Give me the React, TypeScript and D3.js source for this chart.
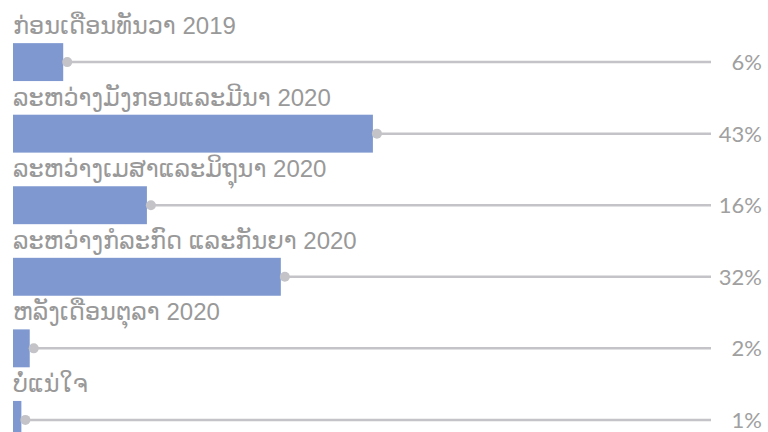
import React, { useEffect, useRef } from 'react';
import * as d3 from 'd3';

// survey answers: when did it happen (Lao labels)
const categories = [
  'ກ່ອນເດືອນທັນວາ 2019',
  'ລະຫວ່າງມັງກອນແລະມີນາ 2020',
  'ລະຫວ່າງເມສາແລະມິຖຸນາ 2020',
  'ລະຫວ່າງກໍລະກົດ ແລະກັນຍາ 2020',
  'ຫລັງເດືອນຕຸລາ 2020',
  'ບໍ່ແນ່ໃຈ',
];
const shares = [6, 43, 16, 32, 2, 1];
const shareLabels = ['6%', '43%', '16%', '32%', '2%', '1%'];

const App = () => {
  const svgRef = useRef<SVGSVGElement>(null);

  useEffect(() => {
    const width = 768;
    const height = 432;
    const svg = d3.select(svgRef.current);
    svg.selectAll('*').remove();

    const x = d3.scaleLinear().domain([0, 100]).range([13, 850]);
    const y = d3.scaleBand().domain(categories).range([9.5, 472.5]).padding(0.47);
    const lineEnd = 711;

    const rows = svg.selectAll('g.row')
      .data(categories)
      .enter()
      .append('g')
      .attr('class', 'row');

    // category label above each bar
    rows.append('text')
      .attr('x', 13)
      .attr('y', d => (y(d) as number) - 9)
      .attr('font-family', '"Liberation Sans", "DejaVu Sans", sans-serif')
      .attr('font-size', 24)
      .attr('fill', '#999999')
      .text(d => d);

    // bars
    rows.append('rect')
      .attr('x', x(0))
      .attr('y', d => y(d) as number)
      .attr('width', (d, i) => x(shares[i]) - x(0))
      .attr('height', y.bandwidth())
      .attr('fill', '#7f99d0');

    // gray leader line to the value
    rows.append('line')
      .attr('x1', (d, i) => x(shares[i]) + 4)
      .attr('x2', lineEnd)
      .attr('y1', d => (y(d) as number) + y.bandwidth() / 2)
      .attr('y2', d => (y(d) as number) + y.bandwidth() / 2)
      .attr('stroke', '#c4c4c8')
      .attr('stroke-width', 2.5);

    rows.append('circle')
      .attr('cx', (d, i) => x(shares[i]) + 4)
      .attr('cy', d => (y(d) as number) + y.bandwidth() / 2)
      .attr('r', 5)
      .attr('fill', '#c4c4c8');

    // percentage labels on the right
    rows.append('text')
      .attr('x', 762)
      .attr('y', d => (y(d) as number) + y.bandwidth() / 2)
      .attr('dy', '0.36em')
      .attr('text-anchor', 'end')
      .attr('font-family', 'Lato, "Open Sans", sans-serif')
      .attr('font-size', 22)
      .attr('fill', '#a0a0a0')
      .text((d, i) => shareLabels[i]);

    svg.attr('width', width).attr('height', height);
  }, []);

  return (
    <svg
      ref={svgRef}
      width="768"
      height="432"
      style={{ position: 'absolute', left: 0, top: 0, background: '#fff' }}
    />
  );
};

export default App;
